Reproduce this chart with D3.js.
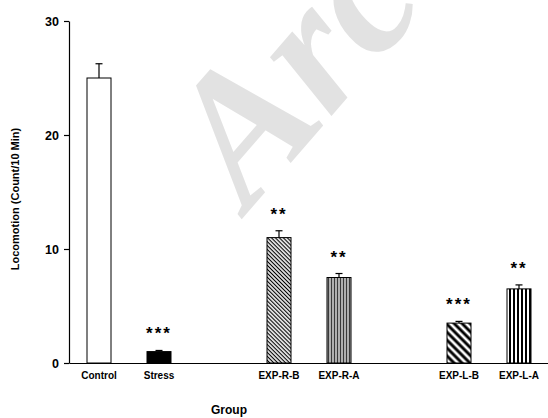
<!DOCTYPE html>
<html>
<head>
<meta charset="utf-8">
<script src="https://cdn.jsdelivr.net/npm/d3@7"></script>
<style>
  body { margin: 0; background: #fff; }
  svg { display: block; font-family: "Liberation Sans", Arial, sans-serif; }
</style>
</head>
<body>
<div id="chart"></div>
<script>
// Datos
const grupos = ['Control', 'Stress', 'EXP-R-B', 'EXP-R-A', 'EXP-L-B', 'EXP-L-A'];
const medias = [25, 1.0, 11.0, 7.5, 3.5, 6.5];
const errores = [1.25, 0.1, 0.6, 0.35, 0.15, 0.35];
const asteriscos = ['', '***', '**', '**', '***', '**'];
const rellenos = ['#fff', '#000', 'url(#patRB)', 'url(#patRA)', 'url(#patLB)', 'url(#patLA)'];
// Huecos entre bloques del eje X
const dominioX = ['Control', 'Stress', '_h1', 'EXP-R-B', 'EXP-R-A', '_h2', 'EXP-L-B', 'EXP-L-A'];
const ticksY = [0, 10, 20, 30];

const width = 548, height = 418;
const margen = { left: 69, top: 21, bottom: 55 };

const svg = d3.select('#chart').append('svg')
  .attr('width', width)
  .attr('height', height);

// Marca de agua
svg.append('text')
  .attr('transform', 'translate(248,212) rotate(-49)')
  .attr('font-family', '"Liberation Serif", "DejaVu Serif", serif')
  .attr('font-style', 'italic')
  .attr('font-weight', 'bold')
  .attr('font-size', 185)
  .attr('fill', '#e2e2e2')
  .text('Archive');

// Patrones de relleno
const defs = svg.append('defs');
function patron(id, tam, rot, fondo, color, grosor) {
  const p = defs.append('pattern').attr('id', id)
    .attr('patternUnits', 'userSpaceOnUse')
    .attr('width', tam).attr('height', tam)
    .attr('patternTransform', `rotate(${rot})`);
  p.append('rect').attr('width', tam).attr('height', tam).attr('fill', fondo);
  p.append('line').attr('x1', tam / 2).attr('x2', tam / 2).attr('y1', 0).attr('y2', tam)
    .attr('stroke', color).attr('stroke-width', grosor);
}
patron('patRB', 2.8, -45, '#fff', '#000', 1.2);
patron('patRA', 3, 0, '#c4c4c4', '#3a3a3a', 1.3);
patron('patLB', 5.6, -45, '#fff', '#000', 2.9);
patron('patLA', 4, 0, '#fff', '#000', 2);

// Escalas
const x = d3.scaleBand().domain(dominioX).range([margen.left, margen.left + 8 * 60]).padding(0);
const y = d3.scaleLinear().domain([0, 30]).range([height - margen.bottom, margen.top]);
const anchoBarra = 24;

const datos = grupos.map((g, i) => ({ g, m: medias[i], e: errores[i], s: asteriscos[i], f: rellenos[i] }));
const cx = d => x(d.g) + x.bandwidth() / 2;

// Barras
svg.append('g').selectAll('rect').data(datos).enter().append('rect')
  .attr('x', d => cx(d) - anchoBarra / 2)
  .attr('y', d => y(d.m))
  .attr('width', anchoBarra)
  .attr('height', d => y(0) - y(d.m))
  .attr('fill', d => d.f)
  .attr('stroke', '#000')
  .attr('stroke-width', 1);

// Barras de error (solo hacia arriba)
const err = svg.append('g').attr('stroke', '#000').attr('stroke-width', 1.2);
err.selectAll('line.v').data(datos).enter().append('line').attr('class', 'v')
  .attr('x1', cx).attr('x2', cx)
  .attr('y1', d => y(d.m)).attr('y2', d => y(d.m + d.e));
err.selectAll('line.c').data(datos).enter().append('line').attr('class', 'c')
  .attr('x1', d => cx(d) - 3.5).attr('x2', d => cx(d) + 3.5)
  .attr('y1', d => y(d.m + d.e)).attr('y2', d => y(d.m + d.e));

// Asteriscos
svg.append('g').selectAll('text').data(datos.filter(d => d.s)).enter().append('text')
  .attr('x', cx)
  .attr('y', d => y(d.m + d.e) - 11)
  .attr('text-anchor', 'middle')
  .attr('font-size', 17)
  .attr('font-weight', 'bold')
  .attr('letter-spacing', 2)
  .text(d => d.s);

// Ejes
const ejeY = svg.append('g').attr('transform', `translate(${margen.left},0)`)
  .call(d3.axisLeft(y).tickValues(ticksY).tickSize(5).tickSizeOuter(0).tickPadding(5));
ejeY.selectAll('text').attr('font-size', 12.5).attr('font-weight', 'bold').attr('fill', '#000').attr('font-family', null);
ejeY.selectAll('line, path').attr('stroke', '#000').attr('stroke-width', 1.2);

const ejeX = svg.append('g').attr('transform', `translate(0,${y(0)})`)
  .call(d3.axisBottom(x).tickValues(grupos).tickSize(0).tickSizeOuter(0).tickPadding(9));
ejeX.selectAll('text').attr('font-size', 10).attr('font-weight', 'bold').attr('fill', '#000').attr('font-family', null);
ejeX.select('path').attr('stroke', '#000').attr('stroke-width', 1.2);

// Títulos de ejes
svg.append('text')
  .attr('x', 229).attr('y', 414)
  .attr('text-anchor', 'middle')
  .attr('font-size', 12)
  .attr('font-weight', 'bold')
  .text('Group');

svg.append('text')
  .attr('transform', 'translate(19,199) rotate(-90)')
  .attr('text-anchor', 'middle')
  .attr('font-size', 11)
  .attr('font-weight', 'bold')
  .text('Locomotion (Count/10 Min)');
</script>
</body>
</html>
